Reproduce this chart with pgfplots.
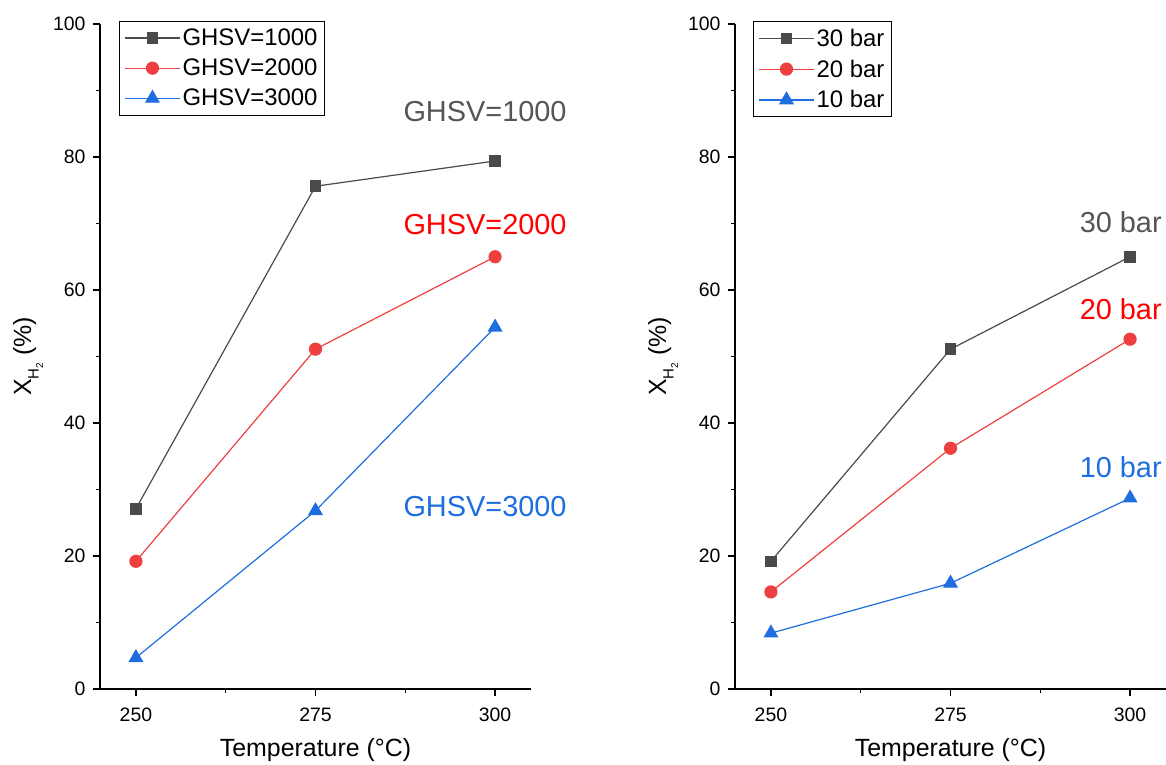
\documentclass[border=0pt]{standalone}
\usepackage{fontspec}
\setmainfont{Liberation Sans}
\usepackage{pgfplots}
\pgfplotsset{compat=1.18}
\definecolor{cblk}{RGB}{74,74,74}
\definecolor{cred}{RGB}{238,64,64}
\definecolor{cblu}{RGB}{30,110,224}
\definecolor{tgray}{RGB}{85,85,85}
\definecolor{tred}{RGB}{255,0,0}
\definecolor{tblu}{RGB}{30,110,224}
\pgfplotsset{myax/.style={
  scale only axis, width=431bp, height=665bp,
  xmin=245, xmax=305, ymin=0, ymax=100,
  clip=false,
  axis x line=bottom, axis y line=left,
  axis line style={-, line width=1.3bp, black},
  xtick={250,275,300}, minor xtick={262.5,287.5},
  ytick={0,20,...,100}, minor ytick={10,30,...,90},
  tick align=outside, major tick length=7bp, minor tick length=4bp,
  every tick/.style={black, line width=1.2bp},
  ticklabel style={font=\fontsize{19.5}{21}\selectfont},
  xticklabel style={yshift=-8bp},
  yticklabel style={xshift=-4bp},
  /pgf/number format/assume math mode=true,
  xlabel={Temperature (°C)},
  xlabel style={font=\fontsize{25}{27}\selectfont, at={(axis description cs:0.5,-0.0917)}, anchor=center},
  ylabel={X\raisebox{-0.3em}{\fontsize{15}{15}\selectfont H\raisebox{-0.3em}{\fontsize{10}{10}\selectfont 2}} (\%)},
  ylabel style={font=\fontsize{25}{27}\selectfont, at={(axis description cs:-0.167,0.50)}, anchor=center, rotate=0},
  legend style={at={(0.044,1.0045)}, anchor=north west, draw=black, line width=0.8bp,
    font=\fontsize{24}{28}\selectfont, inner xsep=5bp, inner ysep=5.5bp, row sep=8bp,
    /tikz/every even column/.append style={column sep=5bp}},
  legend cell align=left,
  legend image code/.code={\draw[mark repeat=2,mark phase=2] plot coordinates {(0bp,0bp)(27.5bp,0bp)(55bp,0bp)};},
  sblk/.style={color=cblk, line width=1.2bp, mark=square*, mark size=5.2bp, mark options={solid, fill=cblk}},
  sred/.style={color=cred, line width=1.2bp, mark=*, mark size=6bp, mark options={solid, fill=cred}},
  sblu/.style={color=cblu, line width=1.2bp, mark=triangle*, mark size=7.5bp, mark options={solid, fill=cblu}},
}}
\begin{document}
\begin{tikzpicture}
\begin{axis}[myax, at={(100bp,76bp)}, anchor=south west]
\addplot[sblk] coordinates {(250,27.1) (275,75.6) (300,79.4)};
\addlegendentry{GHSV=1000}
\addplot[sred] coordinates {(250,19.2) (275,51.1) (300,65.0)};
\addlegendentry{GHSV=2000}
\addplot[sblu] coordinates {(250,4.7) (275,26.8) (300,54.4)};
\addlegendentry{GHSV=3000}
\node[font=\fontsize{29}{31}\selectfont, text=tgray] at (axis cs:298.6,86.9) {GHSV=1000};
\node[font=\fontsize{29}{31}\selectfont, text=tred] at (axis cs:298.6,69.8) {GHSV=2000};
\node[font=\fontsize{29}{31}\selectfont, text=tblu] at (axis cs:298.6,27.5) {GHSV=3000};
\end{axis}
\begin{axis}[myax, at={(735bp,76bp)}, anchor=south west, legend style={at={(0.0418,1.0045)}}]
\addplot[sblk] coordinates {(250,19.2) (275,51.1) (300,65.0)};
\addlegendentry{30 bar}
\addplot[sred] coordinates {(250,14.6) (275,36.2) (300,52.6)};
\addlegendentry{20 bar}
\addplot[sblu] coordinates {(250,8.4) (275,15.9) (300,28.7)};
\addlegendentry{10 bar}
\node[font=\fontsize{29}{31}\selectfont, text=tgray] at (axis cs:298.7,70.2) {30 bar};
\node[font=\fontsize{29}{31}\selectfont, text=tred] at (axis cs:298.7,57.1) {20 bar};
\node[font=\fontsize{29}{31}\selectfont, text=tblu] at (axis cs:298.7,33.3) {10 bar};
\end{axis}
\pgfresetboundingbox
\path[use as bounding box] (0bp,0bp) rectangle (1166bp,765bp);
\end{tikzpicture}
\end{document}
